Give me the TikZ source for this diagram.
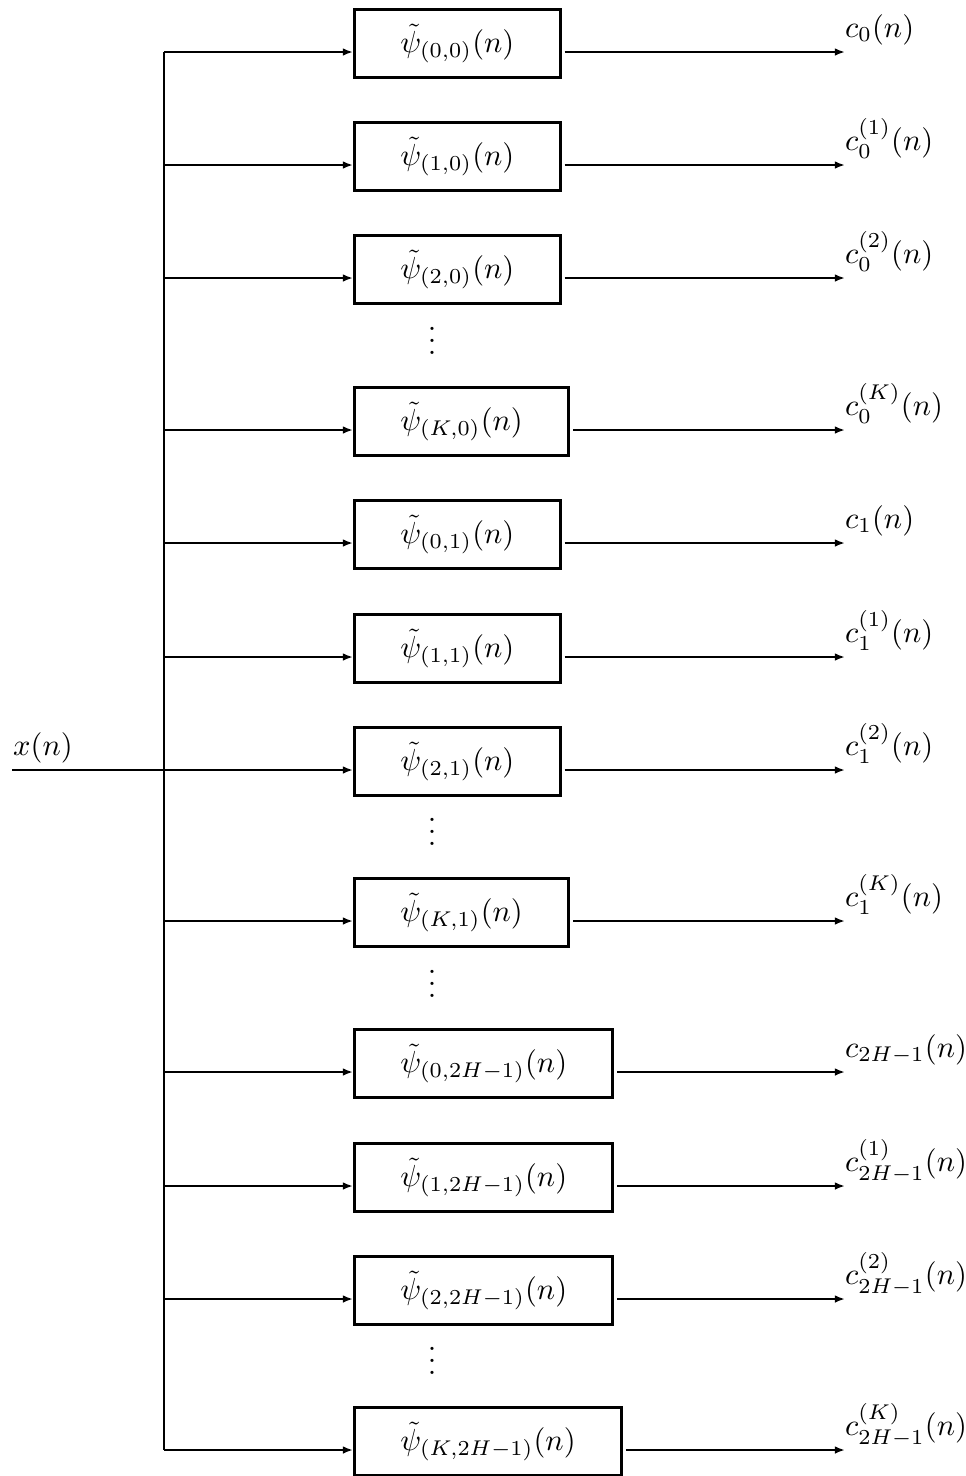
\documentclass[tikz,border=0pt]{standalone}
\usetikzlibrary{arrows.meta,calc}
\begin{document}
\begin{tikzpicture}[x=0.3279pt,y=-0.3279pt,line width=0.8pt,
  filt/.style={draw,line width=1pt,anchor=west,minimum height=22pt,inner xsep=15pt,inner ysep=0pt},
  arr/.style={-{Latex[length=3.3pt,width=2.5pt]}},
  lab/.style={anchor=base west,inner sep=0pt},
  dots/.style={inner sep=0pt}]
\useasboundingbox (0,0) rectangle (966,1476);
\foreach \i/\y/\s/\l in {
  1/52/{(0,0)}/{c_0(n)},
  2/165/{(1,0)}/{c_0^{(1)}(n)},
  3/278/{(2,0)}/{c_0^{(2)}(n)},
  4/430/{(K,0)}/{c_0^{(K)}(n)},
  5/543/{(0,1)}/{c_1(n)},
  6/657/{(1,1)}/{c_1^{(1)}(n)},
  7/770/{(2,1)}/{c_1^{(2)}(n)},
  8/921/{(K,1)}/{c_1^{(K)}(n)},
  9/1072/{(0,2H-1)}/{c_{2H-1}(n)},
  10/1186/{(1,2H-1)}/{c_{2H-1}^{(1)}(n)},
  11/1299/{(2,2H-1)}/{c_{2H-1}^{(2)}(n)},
  12/1450/{(K,2H-1)}/{c_{2H-1}^{(K)}(n)}}{
  \coordinate (v\i) at (164,\y);
  \coordinate (o\i) at (845,\y);
  \node[filt] (b\i) at (353,\y-8.5) {$\tilde{\psi}_{\s}(n)$};
  \draw[arr] (v\i) -- (b\i.west |- v\i);
  \draw[arr] ($(b\i.east |- v\i)+(3,0)$) -- (o\i);
  \node[lab] (l\i) at ($(o\i)+(-1,-14.6)$) {$\l$};
}
\draw (v1) -- (v12);
\coordinate (xin) at (12,770);
\node[lab] (xl) at (12,755.4) {$x(n)$};
\draw (xin) -- (v7);
\node[dots] (d1) at (432,332) {$\vdots$};
\node[dots] (d2) at (432,823) {$\vdots$};
\node[dots] (d3) at (432,975) {$\vdots$};
\node[dots] (d4) at (432,1352) {$\vdots$};
\end{tikzpicture}
\end{document}
